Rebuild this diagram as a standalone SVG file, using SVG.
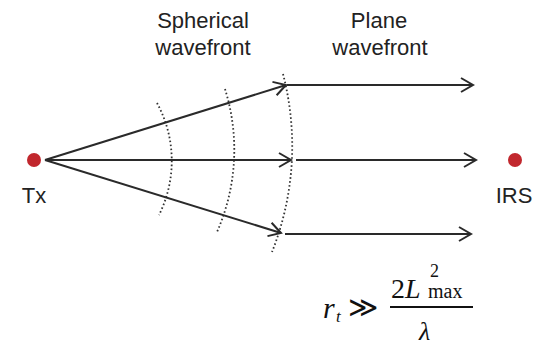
<svg xmlns="http://www.w3.org/2000/svg" width="537" height="346" viewBox="0 0 537 346">
<style>
.lbl{font-family:"Liberation Sans",Arial,sans-serif;font-size:22px;fill:#222;text-anchor:middle}
.ray{stroke:#2a2a2a;stroke-width:2;fill:none}
.wave{stroke:#333;stroke-width:1.8;fill:none;stroke-dasharray:1.6 2.4}
.dot{fill:#c1272d}
.math{font-family:"Liberation Serif","Times New Roman","DejaVu Serif",serif;fill:#111}
</style>
<defs>
<marker id="arr" markerUnits="userSpaceOnUse" markerWidth="16" markerHeight="18" refX="13" refY="8" orient="auto" overflow="visible">
<path d="M1,1 L13,8 L1,15" fill="none" stroke="#2a2a2a" stroke-width="2" stroke-linejoin="miter"/>
</marker>
</defs>
<rect width="537" height="346" fill="#fff"/>
<g id="labels">
<text class="lbl" x="203" y="28">Spherical</text>
<text class="lbl" x="203" y="55">wavefront</text>
<text class="lbl" x="379" y="28">Plane</text>
<text class="lbl" x="380" y="55">wavefront</text>
</g>
<g id="wavefronts">
<path class="wave" d="M157,103 A121,121 0 0 1 159,215"/>
<path class="wave" d="M225,89 A204,204 0 0 1 217,232"/>
<path class="wave" d="M283,74 A287,287 0 0 1 272,252"/>
</g>
<g id="connectors">
<line class="ray" x1="45" y1="160" x2="286" y2="85" marker-end="url(#arr)"/>
<line class="ray" x1="45" y1="160" x2="291" y2="160" marker-end="url(#arr)"/>
<line class="ray" x1="45" y1="160" x2="281" y2="233" marker-end="url(#arr)"/>
<line class="ray" x1="287" y1="85" x2="473" y2="85" marker-end="url(#arr)"/>
<line class="ray" x1="296" y1="160" x2="476" y2="160" marker-end="url(#arr)"/>
<line class="ray" x1="285" y1="234" x2="471" y2="234" marker-end="url(#arr)"/>
</g>
<g id="tx">
<circle class="dot" cx="34" cy="160" r="7"/>
<text class="lbl" x="34" y="203">Tx</text>
</g>
<g id="irs">
<circle class="dot" cx="515" cy="160" r="7"/>
<text class="lbl" x="514" y="203">IRS</text>
</g>
<g id="formula">
<text class="math" x="323" y="318" font-size="30" font-style="italic">r</text>
<text class="math" x="336" y="322" font-size="17" font-style="italic">t</text>
<text class="math" x="348" y="317" font-size="29">≫</text>
<text class="math" x="391" y="298" font-size="28">2<tspan font-style="italic">L</tspan></text>
<text class="math" x="430" y="277" font-size="18">2</text>
<text class="math" x="428" y="298" font-size="20">max</text>
<line x1="390" y1="307" x2="473" y2="307" stroke="#111" stroke-width="2"/>
<text class="math" x="419" y="340" font-size="26" font-style="italic">λ</text>
</g>
</svg>
